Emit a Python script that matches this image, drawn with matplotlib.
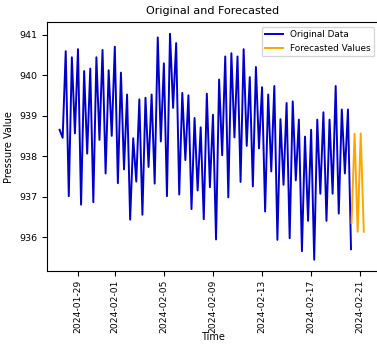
import matplotlib
matplotlib.use('Agg')
import matplotlib.pyplot as plt
import matplotlib.dates as mdates
import pandas as pd

# 6-hourly pressure readings (alternating highs / lows of the daily tide)
obs_start = '2024-01-27 12:00'
obs_values = [
    938.65, 938.45, 940.59, 937.01, 940.44, 938.56, 940.64, 936.80, 940.10, 938.06,
    940.16, 936.86, 940.44, 938.40, 940.62, 937.57, 940.12, 938.50, 940.70, 937.33,
    940.06, 937.67, 939.52, 936.43, 938.44, 937.37, 939.40, 936.55, 939.44, 937.73,
    939.52, 937.32, 940.93, 938.36, 940.29, 937.01, 941.02, 939.19, 940.79, 937.05,
    939.56, 937.90, 939.50, 936.69, 938.94, 937.15, 938.71, 936.44, 939.54, 937.23,
    939.02, 935.94, 939.89, 938.02, 940.46, 936.98, 940.54, 938.46, 940.46, 937.36,
    940.64, 938.25, 939.95, 937.25, 940.20, 938.19, 939.70, 936.63, 939.52, 937.62,
    939.73, 935.93, 938.91, 937.29, 939.31, 935.97, 939.35, 937.40, 938.90, 935.65,
    938.48, 936.40, 938.65, 935.44, 938.90, 937.07, 939.08, 936.40, 938.90, 937.07,
    939.73, 936.58, 939.15, 937.57, 939.15, 935.70,
]

fc_start = '2024-02-20 07:00'
fc_values = [936.35, 938.55, 936.13, 938.56, 936.13]

obs_time = pd.date_range(obs_start, periods=len(obs_values), freq='6h')
fc_time = pd.date_range(fc_start, periods=len(fc_values), freq='6h')

fig = plt.figure(figsize=(3.77, 3.45), dpi=100)
ax = fig.add_axes([0.1255, 0.2145, 0.8788, 0.7203])

ax.plot(obs_time, obs_values, color='mediumblue', lw=1.4, label='Original Data')
ax.plot(fc_time, fc_values, color='orange', lw=1.4, label='Forecasted Values')

ax.set_xlim(pd.Timestamp('2024-01-26 12:00'), pd.Timestamp('2024-02-22 12:00'))
ax.xaxis.set_major_locator(mdates.DayLocator(bymonthday=[1, 5, 9, 13, 17, 21, 25, 29]))
ax.xaxis.set_major_formatter(mdates.DateFormatter('%Y-%m-%d'))
ax.tick_params(axis='x', labelrotation=90, labelsize=6.6, pad=3)
ax.tick_params(axis='y', labelsize=6.8)

ax.set_title('Original and Forecasted', fontsize=8)
ax.set_xlabel('Time', fontsize=7)
ax.xaxis.set_label_coords(0.5, -0.245)
ax.set_ylabel('Pressure Value', fontsize=7)
ax.legend(loc='upper right', fontsize=6.4)

fig.savefig('out.png', dpi=100)
